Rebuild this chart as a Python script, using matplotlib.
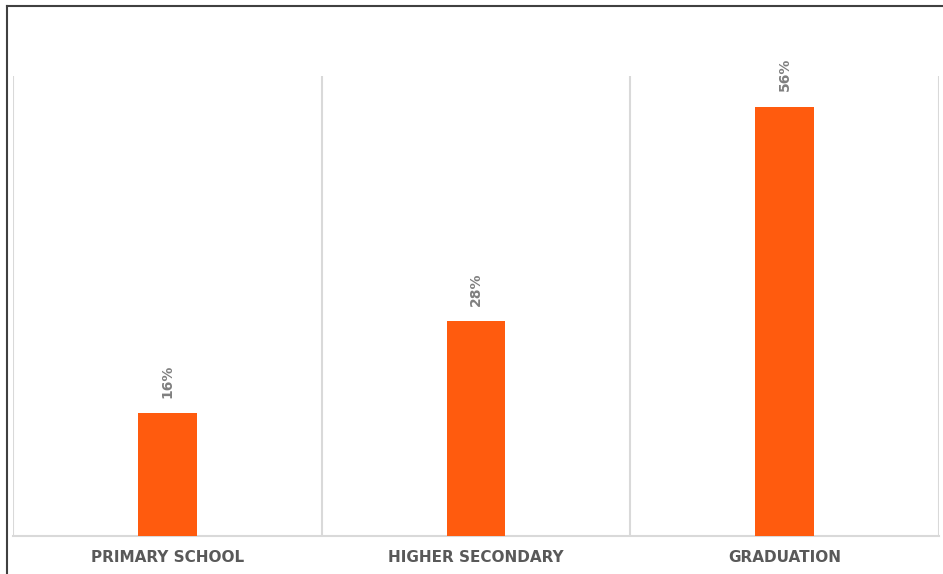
import numpy as np
import matplotlib.pyplot as plt
from matplotlib.lines import Line2D

# Dane z wykresu
kategorie = ["PRIMARY SCHOOL", "HIGHER SECONDARY", "GRADUATION"]
wartosci = [16, 28, 56]
etykiety = ["16%", "28%", "56%"]

kolor_slupka = "#FF5B0E"
kolor_tekstu = "#595959"
kolor_siatki = "#D9D9D9"

fig = plt.figure(figsize=(9.43, 5.74), dpi=100)
ax = fig.add_axes([13 / 943, 38 / 574, 926 / 943, 460 / 574])

x = np.arange(len(kategorie))
ax.bar(x, wartosci, width=0.19, color=kolor_slupka, zorder=3)

# Etykiety wartości nad słupkami (obrócone)
for xi, v, t in zip(x, wartosci, etykiety):
    ax.annotate(t, (xi, v), xytext=(0, 11), textcoords="offset points",
                rotation=90, ha="center", va="bottom", fontsize=10,
                fontweight="bold", color="#7F7F7F")

ax.set_xlim(-0.5, len(kategorie) - 0.5)
ax.set_ylim(0, 60)

# Pionowe linie między kategoriami
for g in np.arange(-0.5, len(kategorie), 1.0):
    ax.axvline(g, color=kolor_siatki, lw=1.5, zorder=1)

for s in ["top", "left", "right"]:
    ax.spines[s].set_visible(False)
ax.spines["bottom"].set_color(kolor_siatki)
ax.spines["bottom"].set_linewidth(1.5)

ax.set_yticks([])
ax.set_xticks(x)
ax.set_xticklabels(kategorie, fontsize=11, fontweight="bold", color=kolor_tekstu)
ax.tick_params(axis="x", length=0, pad=10)

# Ramka wokół obrazka (góra i lewa strona)
fig.add_artist(Line2D([7.5 / 943, 1], [1 - 5.5 / 574, 1 - 5.5 / 574],
                      transform=fig.transFigure, color="#404040", lw=1.5))
fig.add_artist(Line2D([7.5 / 943, 7.5 / 943], [0, 1 - 5.5 / 574],
                      transform=fig.transFigure, color="#404040", lw=1.5))

fig.savefig("out.png", dpi=100)
